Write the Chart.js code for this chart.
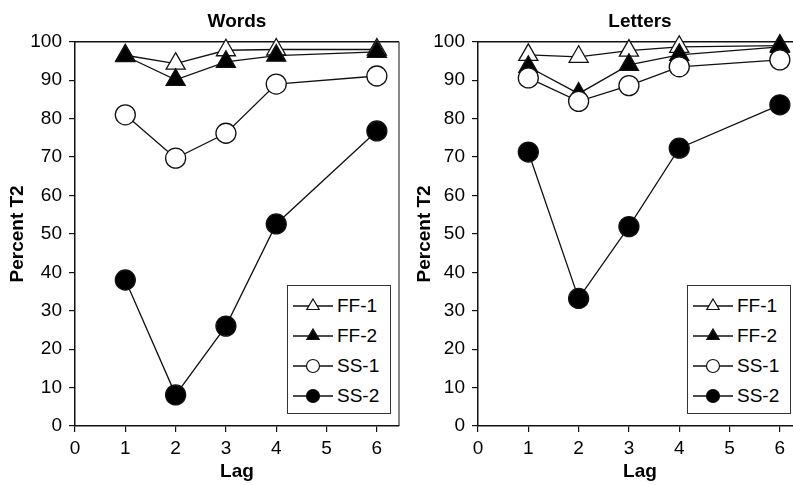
<!DOCTYPE html>
<html>
<head>
<meta charset="utf-8">
<script src="https://cdn.jsdelivr.net/npm/chart.js@4.4.0/dist/chart.umd.min.js"></script>
<style>
    body { margin: 0; background: #fff; width: 793px; height: 485px; overflow: hidden; position: relative;
           font-family: "Liberation Sans", Arial, sans-serif; }
    .panel { position: absolute; top: 0; }
    .legend { position: absolute; top: 285px; width: 104px; height: 129px; box-sizing: border-box;
              border: 1px solid #333; background: #fff; padding-top: 5px; }
    .legend .row { display: flex; align-items: center; height: 30px; font-size: 19px; color: #000; }
    .legend svg { margin-left: 4px; margin-right: 3px; }
</style>
</head>
<body>
<canvas id="words" class="panel" width="400" height="485" style="left:0"></canvas>
<canvas id="letters" class="panel" width="400" height="485" style="left:403px"></canvas>
<div id="legendWords" class="legend" style="left:287px"></div>
<div id="legendLetters" class="legend" style="left:687px"></div>

<script>
// Data
const lags = [1, 2, 3, 4, 6];
const seriesNames = ['FF-1', 'FF-2', 'SS-1', 'SS-2'];
const xTicks = [0, 1, 2, 3, 4, 5, 6];
const yTicks = [0, 10, 20, 30, 40, 50, 60, 70, 80, 90, 100];

// Words panel
const wordsFF1 = [96.5, 94.3, 97.8, 98, 98];
const wordsFF2 = [96.3, 90.1, 94.8, 96.4, 97.4];
const wordsSS1 = [81, 69.7, 76.2, 89, 91.1];
const wordsSS2 = [38, 8.1, 26, 52.6, 76.8];

// Letters panel
const lettersFF1 = [96.6, 96.1, 97.7, 98.7, 99];
const lettersFF2 = [93.5, 86.5, 94, 96.6, 98.7];
const lettersSS1 = [90.6, 84.5, 88.6, 93.5, 95.3];
const lettersSS2 = [71.3, 33.2, 51.9, 72.3, 83.6];

// Marker styles per series
const markerStyle = ['triangle', 'triangle', 'circle', 'circle'];
const markerFill = ['#fff', '#000', '#fff', '#000'];
const markerRadius = [11, 11, 10, 10];
const drawOrder = [4, 3, 2, 1];

const FONT = '"Liberation Sans", Arial, sans-serif';

// top and right frame of the plot area
const framePlugin = {
    id: 'frame',
    beforeDatasetsDraw(chart) {
        const a = chart.chartArea;
        const ctx = chart.ctx;
        ctx.save();
        ctx.strokeStyle = '#111';
        ctx.lineWidth = 1.6;
        ctx.beginPath();
        ctx.moveTo(a.left, a.top);
        ctx.lineTo(a.right, a.top);
        ctx.stroke();
        ctx.lineWidth = 1;
        ctx.beginPath();
        ctx.moveTo(a.right, a.top);
        ctx.lineTo(a.right, a.bottom);
        ctx.stroke();
        ctx.restore();
    }
};

function makeChart(id, title, values, yTitlePad) {
    return new Chart(document.getElementById(id), {
        type: 'line',
        data: {
            datasets: seriesNames.map((name, i) => ({
                label: name,
                data: lags.map((lag, j) => ({ x: lag, y: values[i][j] })),
                borderColor: '#111',
                borderWidth: 1.3,
                pointStyle: markerStyle[i],
                pointRadius: markerRadius[i],
                pointBackgroundColor: markerFill[i],
                pointBorderColor: '#111',
                pointBorderWidth: 1.3,
                order: drawOrder[i],
                tension: 0,
                clip: false
            }))
        },
        options: {
            responsive: false,
            animation: false,
            layout: { autoPadding: false, padding: { left: 0, right: 1, top: 0, bottom: 0 } },
            plugins: {
                legend: { display: false },
                tooltip: { enabled: false },
                title: {
                    display: true,
                    text: title,
                    fullSize: false,
                    color: '#000',
                    font: { family: FONT, size: 19, weight: 'bold' },
                    padding: { top: 10, bottom: 9 }
                }
            },
            scales: {
                x: {
                    type: 'linear',
                    min: 0,
                    max: 6.44,
                    afterBuildTicks: s => { s.ticks = xTicks.map(v => ({ value: v })); },
                    afterFit: s => { s.height = 59; },
                    grid: { drawOnChartArea: false, color: '#111', tickLength: 6, lineWidth: 1.2 },
                    border: { color: '#111', width: 1.5 },
                    ticks: { color: '#000', padding: 5, font: { family: FONT, size: 19 } },
                    title: { display: true, text: 'Lag', color: '#000', font: { family: FONT, size: 19, weight: 'bold' },
                             padding: { top: 0, bottom: 2 } }
                },
                y: {
                    min: 0,
                    max: 100,
                    afterBuildTicks: s => { s.ticks = yTicks.map(v => ({ value: v })); },
                    afterFit: s => { s.width = 75; },
                    grid: { drawOnChartArea: false, color: '#111', tickLength: 6, lineWidth: 1.2 },
                    border: { color: '#111', width: 1.5 },
                    ticks: { color: '#000', padding: 7, font: { family: FONT, size: 19 } },
                    title: { display: true, text: 'Percent T2', color: '#000', font: { family: FONT, size: 19, weight: 'bold' },
                             padding: { top: yTitlePad, bottom: 0 } }
                }
            }
        },
        plugins: [framePlugin]
    });
}

function markerSvg(i) {
    let mark;
    if (markerStyle[i] === 'triangle') {
        mark = '<polygon points="21,3 27.2,13.5 14.8,13.5" fill="' + markerFill[i] + '" stroke="#111" stroke-width="1.2"/>';
    } else {
        mark = '<circle cx="21" cy="10" r="6.5" fill="' + markerFill[i] + '" stroke="#111" stroke-width="1.2"/>';
    }
    return '<svg width="42" height="20"><line x1="1" y1="10" x2="41" y2="10" stroke="#111" stroke-width="1.3"/>' + mark + '</svg>';
}

function buildLegend(id) {
    const box = document.getElementById(id);
    seriesNames.forEach((name, i) => {
        const row = document.createElement('div');
        row.className = 'row';
        row.innerHTML = markerSvg(i) + '<span>' + name + '</span>';
        box.appendChild(row);
    });
}

makeChart('words', 'Words', [wordsFF1, wordsFF2, wordsSS1, wordsSS2], 6);
makeChart('letters', 'Letters', [lettersFF1, lettersFF2, lettersSS1, lettersSS2], 10);
buildLegend('legendWords');
buildLegend('legendLetters');
</script>
</body>
</html>
